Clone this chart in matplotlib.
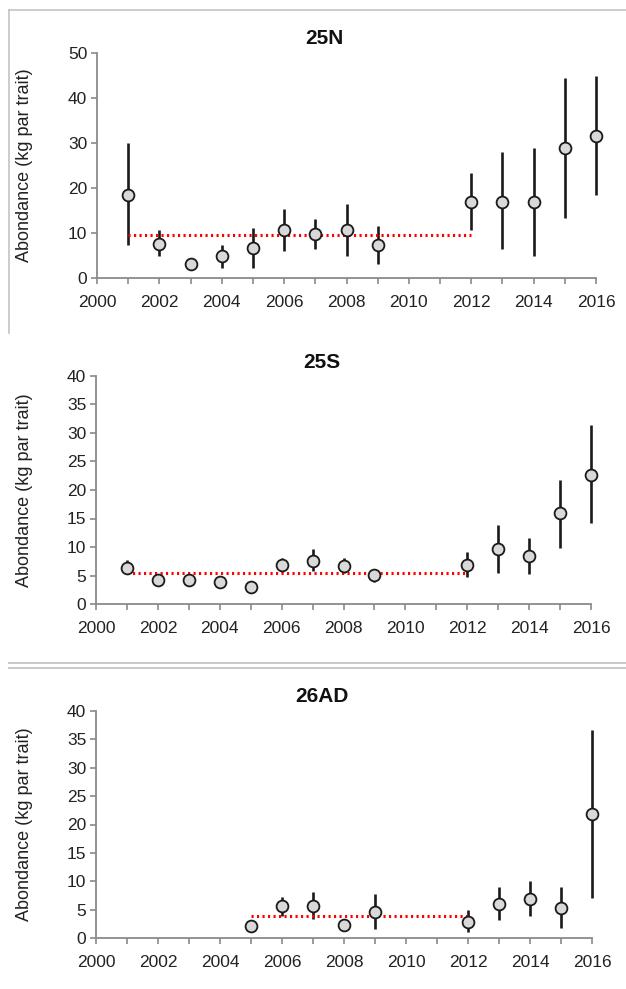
import matplotlib.pyplot as plt
from matplotlib.lines import Line2D

plt.rcParams['font.family'] = ['Liberation Sans', 'DejaVu Sans']

# 25N
years_n = [2001, 2002, 2003, 2004, 2005, 2006, 2007, 2008, 2009, 2012, 2013, 2014, 2015, 2016]
mean_n = [18.5, 7.6, 3.1, 4.8, 6.6, 10.6, 9.7, 10.7, 7.4, 17.0, 17.0, 16.9, 28.9, 31.5]
low_n = [7.4, 5.0, 3.1, 2.2, 2.2, 6.0, 6.5, 5.0, 3.1, 10.7, 6.5, 5.0, 13.3, 18.5]
high_n = [29.9, 10.6, 3.1, 7.4, 11.1, 15.4, 13.1, 16.5, 11.6, 23.4, 27.9, 29.0, 44.4, 44.8]
ref_n = 9.6
ref_span_n = (2001, 2012)

# 25S
years_s = [2001, 2002, 2003, 2004, 2005, 2006, 2007, 2008, 2009, 2012, 2013, 2014, 2015, 2016]
mean_s = [6.4, 4.2, 4.2, 3.8, 3.0, 6.8, 7.6, 6.7, 5.1, 6.8, 9.6, 8.5, 16.0, 22.6]
low_s = [5.4, 4.2, 4.2, 3.8, 3.0, 5.7, 5.8, 5.5, 3.8, 4.7, 5.5, 5.2, 9.9, 14.2]
high_s = [7.7, 4.2, 4.2, 3.8, 3.0, 8.0, 9.6, 8.0, 6.2, 9.2, 13.8, 11.6, 21.8, 31.4]
ref_s = 5.5
ref_span_s = (2001, 2012)

# 26AD
years_ad = [2005, 2006, 2007, 2008, 2009, 2012, 2013, 2014, 2015, 2016]
mean_ad = [2.1, 5.6, 5.6, 2.3, 4.6, 2.8, 6.0, 6.9, 5.2, 21.9]
low_ad = [2.1, 3.8, 3.3, 1.2, 1.5, 1.0, 3.2, 3.8, 1.8, 7.0]
high_ad = [2.1, 7.3, 8.1, 3.2, 7.8, 4.9, 8.9, 10.1, 8.9, 36.7]
ref_ad = 3.8
ref_span_ad = (2005, 2012)

W, H = 626, 989
fig = plt.figure(figsize=(W / 100, H / 100), dpi=100)

panels = [
    ('25N', years_n, mean_n, low_n, high_n, ref_n, ref_span_n, 50, 10,
     (97, 596, 278, 53), 38),
    ('25S', years_s, mean_s, low_s, high_s, ref_s, ref_span_s, 40, 5,
     (96, 591, 604, 376), 363),
    ('26AD', years_ad, mean_ad, low_ad, high_ad, ref_ad, ref_span_ad, 40, 5,
     (96, 592, 938, 711), 697),
]

axis_col = '#8a8a8a'

for name, yrs, m, lo, hi, ref, span, ymax, ystep, box, ty in panels:
    x0, x1, yb, yt = box
    ax = fig.add_axes([x0 / W, 1 - yb / H, (x1 - x0) / W, (yb - yt) / H])
    yerr = [[a - b for a, b in zip(m, lo)], [c - a for a, c in zip(m, hi)]]
    eb = ax.errorbar(yrs, m, yerr=yerr, fmt='none', ecolor='#1a1a1a', elinewidth=1.9,
                     capsize=0, zorder=2)
    for coll in eb.lines[2]:
        coll.set_clip_on(False)
    ax.plot(span, [ref, ref], color='red', lw=2.2, linestyle=(0, (0.7, 1.1)), zorder=3)
    ax.plot(yrs, m, 'o', ms=8.5, mfc='#d9d9d9', mec='#1a1a1a', mew=1.3, zorder=4,
            clip_on=False)

    ax.set_xlim(2000, 2016)
    ax.set_ylim(0, ymax)
    ax.set_xticks(range(2000, 2017))
    ax.set_xticklabels([str(y) if y % 2 == 0 else '' for y in range(2000, 2017)])
    ax.set_yticks(range(0, ymax + 1, ystep))
    for s in ('top', 'right'):
        ax.spines[s].set_visible(False)
    for s in ('left', 'bottom'):
        ax.spines[s].set_color(axis_col)
        ax.spines[s].set_linewidth(1.3)
    ax.tick_params(axis='both', colors=axis_col, labelcolor='#222222',
                   labelsize=12.5, length=4, width=1.2)
    ax.tick_params(axis='x', pad=8)
    ax.tick_params(axis='y', pad=3)
    ax.patch.set_alpha(0)

    fig.text((x0 + x1) / 2 / W - 0.035, 1 - ty / H, name, ha='center', va='center',
             fontsize=15, fontweight='bold', color='#111111')
    fig.text(25 / W, 1 - (yb + yt) / 2 / H, 'Abondance (kg par trait)', rotation=90,
             ha='center', va='center', fontsize=13, color='#222222')

# gray frame lines between panels
frame = '#c4c4c4'
fig.add_artist(Line2D([9 / W, 1], [1 - 10 / H, 1 - 10 / H], color=frame, lw=1.2))
fig.add_artist(Line2D([9 / W, 9 / W], [1 - 10 / H, 1 - 333 / H], color=frame, lw=1.2))
fig.add_artist(Line2D([9 / W, 1], [1 - 663 / H, 1 - 663 / H], color=frame, lw=1.3))
fig.add_artist(Line2D([9 / W, 1], [1 - 668 / H, 1 - 668 / H], color=frame, lw=1.3))

fig.savefig('out.png', dpi=100)
